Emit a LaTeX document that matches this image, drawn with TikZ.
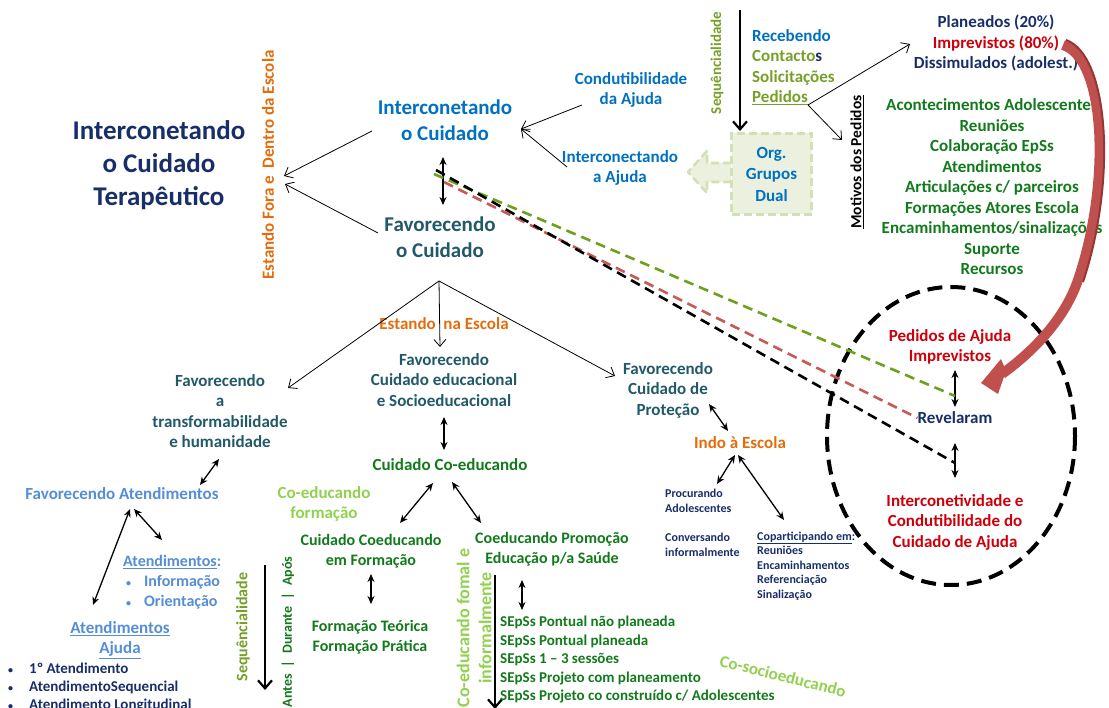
\documentclass[tikz,border=0pt]{standalone}
\usepackage{fontspec}
\setmainfont{Carlito}
\usetikzlibrary{arrows.meta,calc}

\definecolor{navy}{RGB}{24,46,104}
\definecolor{cblue}{RGB}{0,112,192}
\definecolor{teal}{RGB}{33,89,104}
\definecolor{corange}{RGB}{228,108,10}
\definecolor{dkgreen}{RGB}{18,122,28}
\definecolor{ltgreen}{RGB}{146,208,80}
\definecolor{olive}{RGB}{118,160,40}
\definecolor{ltblue}{RGB}{85,142,213}
\definecolor{cred}{RGB}{204,0,10}
\definecolor{arrowred}{RGB}{192,80,77}
\definecolor{arrowdark}{RGB}{150,55,53}
\definecolor{dashgreen}{RGB}{110,160,30}
\definecolor{dashred}{RGB}{200,90,85}
\definecolor{boxfill}{RGB}{235,241,222}
\definecolor{boxline}{RGB}{210,225,180}

\newcommand\fs[2]{\fontsize{#1}{#2}\selectfont\bfseries}
\newcommand\sbul{{\fontsize{10}{10}\selectfont\textbullet}}

\begin{document}
\begin{tikzpicture}[x=1pt,y=-1pt,
  txt/.style={inner sep=0pt, align=center, font=\fs{17}{20.5}},
  small/.style={inner sep=0pt, align=left, anchor=west, font=\fs{12}{14.5}, text=navy},
  thinarr/.style={-{Straight Barb[length=7pt,width=12pt,line width=0.8pt]}, line width=0.8pt},
  dblarr/.style={{Stealth[length=8pt,width=7pt]}-{Stealth[length=8pt,width=7pt]}, line width=1.3pt},
  bigarr/.style={-{Straight Barb[length=8pt,width=14pt,line width=2.2pt]}, line width=2.4pt},
  linkline/.style={line width=2.6pt, dash pattern=on 10pt off 6pt},
]
\useasboundingbox (0,0) rectangle (1109,708);
\clip (0,0) rectangle (1109,708);

% ---------- left title ----------
\node[txt, text=navy, font=\fs{27}{33}] (title) at (159,165) {Interconetando\\o Cuidado\\Terapêutico};
\node[txt, text=corange, rotate=90] (fora) at (268,165) {Estando Fora e\ \ Dentro da Escola};

% ---------- central pair ----------
\node[txt, text=cblue, font=\fs{21}{26}] (ic) at (445,120) {Interconetando\\o Cuidado};
\node[txt, text=teal, font=\fs{21}{26}] (fc) at (440,237) {Favorecendo\\o Cuidado};
\coordinate (foraA) at (284,176);
\coordinate (foraB) at (285,184);
\coordinate (icL) at (372,131);
\coordinate (fcL) at (378,233);
\draw[thinarr] (icL) -- (foraA);
\draw[thinarr] (fcL) -- (foraB);
\coordinate (icfcT) at (443,157);
\coordinate (icfcB) at (443,205);
\draw[dblarr] (icfcT) -- (icfcB);

\node[txt, text=cblue] (cond) at (631,90) {Condutibilidade\\da Ajuda};
\node[txt, text=cblue] (ia) at (620,168) {Interconectando\\a Ajuda};
\coordinate (icR) at (521,129);
\coordinate (condL) at (582,105);
\coordinate (iaL) at (567,167);
\draw[thinarr] (condL) -- (icR);
\draw[thinarr] (iaL) -- (icR);

% ---------- top right ----------
\node[txt, text=olive, rotate=90, font=\fs{15}{18}] (seq1) at (717,63) {Sequêncialidade};
\coordinate (seq1T) at (740,10);
\coordinate (seq1B) at (740,131);
\draw[bigarr] (seq1T) -- (seq1B);
\node[txt, align=left, anchor=west] (rec) at (752,67) {\textcolor{cblue}{Recebendo}\\\textcolor{olive}{Contacto}\textcolor{navy}{s}\\\textcolor{olive}{Solicitações}\\\textcolor{olive}{\underline{Pedidos}}};
\coordinate (ped) at (808,105);
\coordinate (pedA) at (910,44);
\coordinate (pedB) at (842,140);
\draw[thinarr] (ped) -- (pedA);
\draw[thinarr] (ped) -- (pedB);

\node[txt] (plan) at (996,43) {\textcolor{navy}{Planeados (20\%)}\\\textcolor{cred}{Imprevistos (80\%)}\\\textcolor{navy}{Dissimulados (adolest.)}};
\node[txt, rotate=90, font=\fs{15.5}{18}] (motl) at (857,162) {\underline{Motivos dos Pedidos}};
\node[txt, text=dkgreen] (mot) at (992,187) {Acontecimentos Adolescentes\\Reuniões\\Colaboração EpSs\\Atendimentos\\Articulações c/ parceiros\\Formações Atores Escola\\Encaminhamentos/sinalizações\\Suporte\\Recursos};

% Org. Grupos Dual box with its left-pointing arrow
\path[fill=boxfill, draw=boxline, line width=2.6pt, dash pattern=on 8pt off 4pt, line join=round]
  (731,163) -- (707,163) -- (707,151) -- (688,172) -- (707,193) -- (707,182) -- (731,182);
\node[txt, text=cblue, fill=boxfill, draw=boxline, line width=2.6pt, dash pattern=on 8pt off 4pt,
  minimum width=80, minimum height=81, font=\fs{17}{21.5}] (org) at (771.5,174) {Org.\\Grupos\\Dual};

% ---------- dashed ellipse ----------
\draw[line width=4pt, dash pattern=on 15pt off 8pt] (951,436) ellipse [x radius=124, y radius=149];
\node[txt, text=cred] (pai) at (950,347) {Pedidos de Ajuda\\Imprevistos};
\node[txt, text=navy] (rev) at (955,418) {Revelaram};
\node[txt, text=cred] (icd) at (955,522) {Interconetividade e\\Condutibilidade do\\Cuidado de Ajuda};
\coordinate (d1T) at (955,370);
\coordinate (d1B) at (955,407);
\coordinate (d2T) at (955,443);
\coordinate (d2B) at (955,478);
\draw[dblarr] (d1T) -- (d1B);
\draw[dblarr] (d2T) -- (d2B);

% ---------- curved red arrow from the unplanned requests to the circle ----------
\coordinate (redS) at (1063,45);
\coordinate (redM) at (1078,280);
\coordinate (redE) at (1002,374);
\coordinate (redTip) at (981,383);
\draw[arrowred, line width=10pt] (redS) .. controls (1105,58) and (1112,180) .. (redM)
  .. controls (1065,318) and (1035,350) .. (redE);
\draw[arrowdark, line width=2pt] (1066,40) .. controls (1109,55) and (1117,180) .. (1083,282);
\fill[arrowred] (redTip) -- (1001,359) -- (1006,371) -- (998,394) -- cycle;

% dashed links from the central pair
\coordinate (gS) at (434,174);
\coordinate (gE) at (955,396);
\coordinate (rS) at (444,182);
\coordinate (kS) at (436,170);
\coordinate (kE) at (955,463);
\draw[linkline, dashgreen] (gS) -- (gE);
\draw[linkline, dashred] (rS) -- (rev.west);
\draw[linkline, black] (kS) -- (kE);

% ---------- school branch ----------
\node[txt, text=corange] (ene) at (444,324) {Estando\ \ na Escola};
\coordinate (fcB) at (439,281);
\coordinate (fatA) at (288,388);
\coordinate (fceA) at (440,347);
\coordinate (fcpA) at (615,376);
\draw[thinarr] (fcB) -- (fatA);
\draw[thinarr] (fcB) -- (fceA);
\draw[thinarr] (fcB) -- (fcpA);

\node[txt, text=teal] (fce) at (444,380) {Favorecendo\\Cuidado educacional\\e Socioeducacional};
\draw[dblarr] (444,417) coordinate (fceB) -- (444,450) coordinate (cceT);
\node[txt, text=dkgreen] (cce) at (450,465) {Cuidado Co-educando};

\node[txt, text=teal] (fat) at (220,411) {Favorecendo\\a\\transformabilidade\\e humanidade};
\draw[dblarr] (219,459) coordinate (fatB) -- (200,485) coordinate (faT);
\node[txt, text=ltblue] (fa) at (122,494) {Favorecendo Atendimentos};
\draw[dblarr] (130,509) coordinate (faB1) -- (93,605) coordinate (aaT);
\draw[dblarr] (134,509) coordinate (faB2) -- (162,540) coordinate (atT);

\node[txt, text=ltblue, align=left, anchor=west, font=\fs{16}{20}] (at) at (123,582)
  {\underline{Atendimentos}:\\\hspace*{3pt}\sbul\hspace{13pt}Informação\\\hspace*{3pt}\sbul\hspace{13pt}Orientação};
\node[txt, text=ltblue] (aa) at (120,640) {\underline{Atendimentos}\\\underline{Ajuda}};
\node[txt, text=navy, align=left, anchor=west, font=\fs{15}{18}] (blist) at (8,688)
  {\sbul\hspace{16pt}1º Atendimento\\\sbul\hspace{16pt}AtendimentoSequencial\\\sbul\hspace{16pt}Atendimento Longitudinal};

% co-educating branch
\node[txt, text=ltgreen] (cef) at (324,504) {Co-educando\\formação};
\draw[dblarr] (433,483) coordinate (cceB1) -- (400,523) coordinate (ccfT);
\draw[dblarr] (452,482) coordinate (cceB2) -- (481,523) coordinate (cpsT);
\node[txt, text=dkgreen, font=\fs{16}{20}] (ccf) at (371,551) {Cuidado Coeducando\\em Formação};
\node[txt, text=dkgreen, font=\fs{16}{20}] (cps) at (552,549) {Coeducando Promoção\\Educação p/a Saúde};
\draw[dblarr] (371,574) coordinate (ccfB) -- (371,604) coordinate (ftpT);
\node[txt, text=dkgreen, font=\fs{16}{20}] (ftp) at (370,637) {Formação Teórica\\Formação Prática};

\node[txt, text=olive, rotate=90, font=\fs{16}{19}] (seq2) at (243,627) {Sequêncialidade};
\draw[bigarr] (265,565) coordinate (seq2T) -- (265,690) coordinate (seq2B);
\node[txt, text=dkgreen, rotate=90, font=\fs{14}{18}] (adp) at (288,632) {Antes\enspace|\enspace Durante\enspace|\enspace Após};

\node[txt, text=ltgreen, rotate=90, font=\fs{18}{22}] (cfi) at (474,628) {Co-educando fomal e\\informalmente};
\draw[bigarr] (495,575) coordinate (cfiT) -- (495,709) coordinate (cfiB);
\draw[dblarr] (522,580) coordinate (cpsB) -- (522,610) coordinate (sepT);
\node[txt, text=dkgreen, align=left, anchor=west, font=\fs{15}{18.5}] (sep) at (500,660)
  {SEpSs Pontual não planeada\\SEpSs Pontual planeada\\SEpSs 1 -- 3 sessões\\SEpSs Projeto com planeamento\\SEpSs Projeto co construído c/ Adolescentes};
\node[txt, text=ltgreen, rotate=-14] (csoc) at (783,676) {Co-socioeducando};

% protection branch
\node[txt, text=teal] (fcp) at (668,390) {Favorecendo\\Cuidado de\\Proteção};
\draw[dblarr] (709,404) coordinate (fcpB) -- (728,431) coordinate (ieT);
\node[txt, text=corange] (ie) at (740,443) {Indo à Escola};
\draw[dblarr] (735,455) coordinate (ieB1) -- (717,484) coordinate (proT);
\draw[dblarr] (738,455) coordinate (ieB2) -- (784,520) coordinate (copT);
\node[small] (pro) at (665,501) {Procurando\\Adolescentes};
\node[small] (conv) at (665,545) {Conversando\\informalmente};
\node[small] (cop) at (757,566) {\underline{Coparticipando em}:\\Reuniões\\Encaminhamentos\\Referenciação\\Sinalização};
\end{tikzpicture}
\end{document}
